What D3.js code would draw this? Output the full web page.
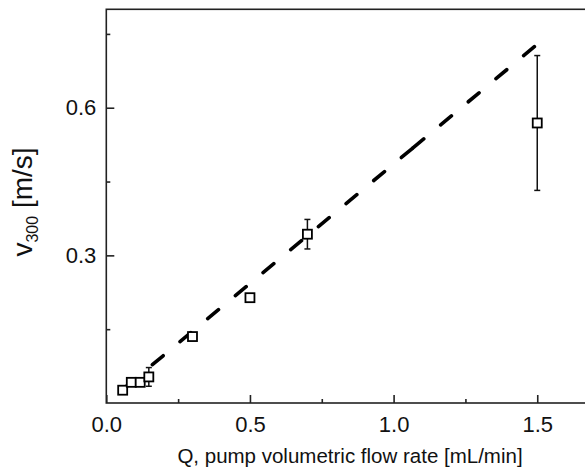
<!DOCTYPE html>
<html lang="en">
  <head>
    <meta charset="utf-8">
    <title>v300 vs flow rate</title>
    <script src="https://cdn.jsdelivr.net/npm/d3@7"></script>
    <style>
      body { margin: 0; background: #fff; }
      text { font-family: "Liberation Sans", Arial, sans-serif; fill: #111; }
    </style>
  </head>
  <body>
    <svg width="585" height="470" id="mainsvg"></svg>
    <script>
      // measured points
      const flowQ = [0.057, 0.087, 0.118, 0.148, 0.3, 0.5, 0.7, 1.5];
      const velocity = [0.026, 0.042, 0.042, 0.053, 0.135, 0.214, 0.343, 0.569];
      const velocityErr = [0.003, 0.004, 0.003, 0.019, 0.004, 0.006, 0.030, 0.137];

      // dashed fit line (drawn in two pieces, like the original)
      const fitQ = [0.064, 1.0665, 1.49];
      const fitV = [0.031, 0.518, 0.724];

      const xTicks = [0, 0.5, 1.0, 1.5];
      const xMinor = [0.25, 0.75, 1.25];
      const yTicks = [0.3, 0.6];
      const yMinor = [0.15, 0.45, 0.75];

      const xAxisLabel = 'Q, pump volumetric flow rate [mL/min]';

      const svg = d3.select('#mainsvg');
      const margin = { top: 9.3, left: 106.3, bottom: 67 };
      const height = +svg.attr('height');
      const innerHeight = height - margin.top - margin.bottom;

      const xScale = d3.scaleLinear()
        .domain([0, 1.7])
        .range([margin.left, margin.left + 1.7 * 287.3]);
      const yScale = d3.scaleLinear()
        .domain([0, 0.8])
        .range([margin.top + innerHeight, margin.top]);

      const y0 = yScale(0);

      // frame
      svg.append('rect')
        .attr('x', xScale(0))
        .attr('y', yScale(0.8))
        .attr('width', xScale(1.7) - xScale(0))
        .attr('height', yScale(0) - yScale(0.8))
        .attr('fill', 'none')
        .attr('stroke', '#222')
        .attr('stroke-width', 1.6);

      // axes, ticks pointing inwards
      const xAxis = d3.axisBottom(xScale)
        .tickValues(xTicks)
        .tickFormat(d3.format('.1f'))
        .tickSize(-8)
        .tickSizeOuter(0)
        .tickPadding(13);
      const xg = svg.append('g')
        .attr('transform', `translate(0, ${y0})`)
        .call(xAxis);
      xg.select('.domain').remove();

      const xMinorAxis = d3.axisBottom(xScale)
        .tickValues(xMinor)
        .tickSize(-4)
        .tickSizeOuter(0);
      const xmg = svg.append('g')
        .attr('transform', `translate(0, ${y0})`)
        .call(xMinorAxis);
      xmg.select('.domain').remove();
      xmg.selectAll('text').remove();

      const yAxis = d3.axisLeft(yScale)
        .tickValues(yTicks)
        .tickFormat(d3.format('.1f'))
        .tickSize(-8)
        .tickSizeOuter(0)
        .tickPadding(10);
      const yg = svg.append('g')
        .attr('transform', `translate(${xScale(0)}, 0)`)
        .call(yAxis);
      yg.select('.domain').remove();

      const yMinorAxis = d3.axisLeft(yScale)
        .tickValues(yMinor)
        .tickSize(-4)
        .tickSizeOuter(0);
      const ymg = svg.append('g')
        .attr('transform', `translate(${xScale(0)}, 0)`)
        .call(yMinorAxis);
      ymg.select('.domain').remove();
      ymg.selectAll('text').remove();

      svg.selectAll('.tick line')
        .attr('stroke', '#222')
        .attr('stroke-width', 1.6);
      svg.selectAll('.tick text')
        .attr('font-size', 22)
        .attr('font-family', '"Liberation Sans", Arial, sans-serif')
        .attr('fill', '#111');

      // axis titles
      svg.append('text')
        .attr('x', 350)
        .attr('y', 463)
        .attr('text-anchor', 'middle')
        .attr('font-size', 20.5)
        .text(xAxisLabel);

      const yTitle = svg.append('text')
        .attr('transform', 'translate(31.7, 202) rotate(-90)')
        .attr('text-anchor', 'middle')
        .attr('font-size', 28);
      yTitle.append('tspan').text('v');
      yTitle.append('tspan').attr('font-size', 16).attr('dy', 6.5).text('300');
      yTitle.append('tspan').attr('dy', -6.5).text(' [m/s]');

      // dashed fit line
      const line = d3.line()
        .x(d => xScale(d[0]))
        .y(d => yScale(d[1]));
      const fitLower = [[fitQ[0], fitV[0]], [fitQ[1], fitV[1]]];
      const fitUpper = [[fitQ[2], fitV[2]], [fitQ[1], fitV[1]]];
      svg.selectAll('.fit')
        .data([fitLower, fitUpper])
        .enter().append('path')
        .attr('class', 'fit')
        .attr('d', line)
        .attr('fill', 'none')
        .attr('stroke', '#000')
        .attr('stroke-width', 3.6)
        .attr('stroke-linecap', 'round')
        .attr('stroke-dasharray', '14,22');

      // error bars
      const pts = flowQ.map((q, i) => ({ q: q, v: velocity[i], e: velocityErr[i] }));
      const eb = svg.selectAll('.err')
        .data(pts)
        .enter().append('g')
        .attr('class', 'err')
        .attr('stroke', '#111')
        .attr('stroke-width', 1.5);
      eb.append('line')
        .attr('x1', d => xScale(d.q)).attr('x2', d => xScale(d.q))
        .attr('y1', d => yScale(d.v - d.e)).attr('y2', d => yScale(d.v + d.e));
      eb.append('line')
        .attr('x1', d => xScale(d.q) - 3).attr('x2', d => xScale(d.q) + 3)
        .attr('y1', d => yScale(d.v - d.e)).attr('y2', d => yScale(d.v - d.e));
      eb.append('line')
        .attr('x1', d => xScale(d.q) - 3).attr('x2', d => xScale(d.q) + 3)
        .attr('y1', d => yScale(d.v + d.e)).attr('y2', d => yScale(d.v + d.e));

      // open squares
      svg.selectAll('.pt')
        .data(pts)
        .enter().append('rect')
        .attr('class', 'pt')
        .attr('x', d => xScale(d.q) - 4.5)
        .attr('y', d => yScale(d.v) - 4.5)
        .attr('width', 9)
        .attr('height', 9)
        .attr('fill', '#fff')
        .attr('stroke', '#000')
        .attr('stroke-width', 1.8);
    </script>
  </body>
</html>
